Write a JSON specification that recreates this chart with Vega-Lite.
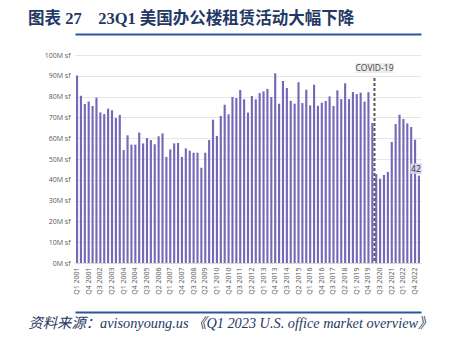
{
 "$schema": "https://vega.github.io/schema/vega-lite/v6.json",
 "width": 346,
 "height": 208,
 "autosize": {"type": "none"},
 "padding": {"left": 75, "top": 55, "right": 29, "bottom": 87},
 "background": "white",
 "title": {"text": "图表 27\u00a0\u00a0\u00a0\u00a023Q1 美国办公楼租赁活动大幅下降", "anchor": "start", "frame": "group", "dx": -47, "offset": 7, "font": "Liberation Serif, Noto Sans CJK SC", "fontSize": 16.5, "fontWeight": "bold", "color": "#1f3864"},
 "data": {"values": [
  {"q": "Q1 2001", "v": 90.1}, {"q": "Q2 2001", "v": 80.4}, {"q": "Q3 2001", "v": 76.4}, {"q": "Q4 2001", "v": 77.6},
  {"q": "Q1 2002", "v": 75.5}, {"q": "Q2 2002", "v": 79.5}, {"q": "Q3 2002", "v": 72.4}, {"q": "Q4 2002", "v": 71.6},
  {"q": "Q1 2003", "v": 74.2}, {"q": "Q2 2003", "v": 73.4}, {"q": "Q3 2003", "v": 69.7}, {"q": "Q4 2003", "v": 71.2},
  {"q": "Q1 2004", "v": 54.3}, {"q": "Q2 2004", "v": 61.4}, {"q": "Q3 2004", "v": 56.9}, {"q": "Q4 2004", "v": 56.9},
  {"q": "Q1 2005", "v": 62.7}, {"q": "Q2 2005", "v": 57.5}, {"q": "Q3 2005", "v": 60.1}, {"q": "Q4 2005", "v": 59.1},
  {"q": "Q1 2006", "v": 57.1}, {"q": "Q2 2006", "v": 60.9}, {"q": "Q3 2006", "v": 62.3}, {"q": "Q4 2006", "v": 51.0},
  {"q": "Q1 2007", "v": 54.6}, {"q": "Q2 2007", "v": 57.5}, {"q": "Q3 2007", "v": 57.7}, {"q": "Q4 2007", "v": 51.0},
  {"q": "Q1 2008", "v": 55.1}, {"q": "Q2 2008", "v": 54.0}, {"q": "Q3 2008", "v": 53.0}, {"q": "Q4 2008", "v": 53.0},
  {"q": "Q1 2009", "v": 45.8}, {"q": "Q2 2009", "v": 53.0}, {"q": "Q3 2009", "v": 59.1}, {"q": "Q4 2009", "v": 68.9},
  {"q": "Q1 2010", "v": 61.1}, {"q": "Q2 2010", "v": 70.7}, {"q": "Q3 2010", "v": 76.1}, {"q": "Q4 2010", "v": 71.5},
  {"q": "Q1 2011", "v": 79.8}, {"q": "Q2 2011", "v": 79.3}, {"q": "Q3 2011", "v": 83.2}, {"q": "Q4 2011", "v": 78.7},
  {"q": "Q1 2012", "v": 72.3}, {"q": "Q2 2012", "v": 80.3}, {"q": "Q3 2012", "v": 78.7}, {"q": "Q4 2012", "v": 81.7},
  {"q": "Q1 2013", "v": 82.5}, {"q": "Q2 2013", "v": 83.7}, {"q": "Q3 2013", "v": 79.8}, {"q": "Q4 2013", "v": 91.2},
  {"q": "Q1 2014", "v": 76.6}, {"q": "Q2 2014", "v": 87.5}, {"q": "Q3 2014", "v": 84.1}, {"q": "Q4 2014", "v": 78.0},
  {"q": "Q1 2015", "v": 76.6}, {"q": "Q2 2015", "v": 86.9}, {"q": "Q3 2015", "v": 76.9}, {"q": "Q4 2015", "v": 83.3},
  {"q": "Q1 2016", "v": 75.8}, {"q": "Q2 2016", "v": 85.7}, {"q": "Q3 2016", "v": 75.6}, {"q": "Q4 2016", "v": 77.1},
  {"q": "Q1 2017", "v": 77.9}, {"q": "Q2 2017", "v": 80.1}, {"q": "Q3 2017", "v": 75.5}, {"q": "Q4 2017", "v": 83.0},
  {"q": "Q1 2018", "v": 78.8}, {"q": "Q2 2018", "v": 86.4}, {"q": "Q3 2018", "v": 78.8}, {"q": "Q4 2018", "v": 82.2},
  {"q": "Q1 2019", "v": 81.2}, {"q": "Q2 2019", "v": 81.9}, {"q": "Q3 2019", "v": 77.6}, {"q": "Q4 2019", "v": 82.1},
  {"q": "Q1 2020", "v": 67.3}, {"q": "Q2 2020", "v": 42.8}, {"q": "Q3 2020", "v": 40.5}, {"q": "Q4 2020", "v": 42.3},
  {"q": "Q1 2021", "v": 43.8}, {"q": "Q2 2021", "v": 58.2}, {"q": "Q3 2021", "v": 66.8}, {"q": "Q4 2021", "v": 71.3},
  {"q": "Q1 2022", "v": 69.2}, {"q": "Q2 2022", "v": 67.1}, {"q": "Q3 2022", "v": 65.4}, {"q": "Q4 2022", "v": 59.3},
  {"q": "Q1 2023", "v": 42}
 ]},
 "layer": [
  {
   "mark": {"type": "bar", "color": "#7668b8"},
   "encoding": {
    "x": {"field": "q", "type": "ordinal", "sort": null,
     "scale": {"paddingInner": 0.45, "paddingOuter": 0.25},
     "axis": {
      "values": ["Q1 2001","Q4 2001","Q3 2002","Q2 2003","Q1 2004","Q4 2004","Q3 2005","Q2 2006","Q1 2007","Q4 2007","Q3 2008","Q2 2009","Q1 2010","Q4 2010","Q3 2011","Q2 2012","Q1 2013","Q4 2013","Q3 2014","Q2 2015","Q1 2016","Q4 2016","Q3 2017","Q2 2018","Q1 2019","Q4 2019","Q3 2020","Q2 2021","Q1 2022","Q4 2022"],
      "labelAngle": -90, "labelFont": "Open Sans", "labelFontSize": 7, "labelColor": "#595959", "labelPadding": 4,
      "ticks": false, "domainColor": "#d9d9d9", "grid": false,
      "title": "资料来源：avisonyoung.us 《Q1 2023 U.S. office market overview》",
      "titleX": -47, "titleY": 60, "titleAlign": "left", "titleAnchor": "start", "titleBaseline": "middle",
      "titleFont": "Liberation Serif, Noto Sans CJK SC", "titleFontStyle": "italic", "titleFontWeight": "normal", "titleFontSize": 14.3, "titleColor": "#1f3864"
     }
    },
    "y": {"field": "v", "type": "quantitative", "scale": {"domain": [0, 100], "nice": false},
     "axis": {"values": [0,10,20,30,40,50,60,70,80,90,100], "tickCount": 12, "labelOverlap": false, "labelExpr": "datum.value + 'M sf'", "domain": false, "ticks": false,
      "gridColor": "#e6e6e6", "labelColor": "#595959", "labelFont": "Open Sans", "labelFontSize": 7, "labelPadding": 5, "title": null}
    }
   }
  },
  {
   "transform": [{"filter": "datum.q == 'Q1 2020'"}],
   "mark": {"type": "rule", "color": "#595959", "strokeWidth": 2, "strokeDash": [3, 2]},
   "encoding": {
    "x": {"field": "q", "type": "ordinal", "sort": null, "bandPosition": 1.5,
     "axis": {"orient": "top", "offset": 21, "labels": false, "ticks": false, "grid": false, "domainColor": "#2b579a", "domainWidth": 2, "title": null}},
    "y": {"datum": 89, "type": "quantitative", "axis": null},
    "y2": {"datum": 0}
   }
  },
  {
   "transform": [{"filter": "datum.q == 'Q1 2020'"}],
   "mark": {"type": "point", "shape": "M-1.9,-0.5L1.9,-0.5L1.9,0.5L-1.9,0.5Z", "size": 400, "filled": true, "color": "#ebebeb", "opacity": 1},
   "encoding": {
    "x": {"field": "q", "type": "ordinal", "sort": null, "bandPosition": 1.5, "axis": null},
    "y": {"datum": 93.8, "type": "quantitative", "axis": null}
   }
  },
  {
   "transform": [{"filter": "datum.q == 'Q1 2020'"}],
   "mark": {"type": "text", "text": "COVID-19", "font": "Open Sans", "fontSize": 8.5, "color": "#404040", "baseline": "middle"},
   "encoding": {
    "x": {"field": "q", "type": "ordinal", "sort": null, "bandPosition": 1.5, "axis": null},
    "y": {"datum": 93.8, "type": "quantitative", "axis": null}
   }
  },
  {
   "transform": [{"filter": "datum.q == 'Q1 2023'"}],
   "mark": {"type": "point", "shape": "M-1.1,-1L1.1,-1L1.1,1L-1.1,1Z", "size": 106, "filled": true, "color": "#d6d1ef", "opacity": 1, "xOffset": -3, "yOffset": -7},
   "encoding": {
    "x": {"field": "q", "type": "ordinal", "sort": null, "axis": {"orient": "bottom", "offset": 49, "labels": false, "ticks": false, "grid": false, "domainColor": "#2b579a", "domainWidth": 2, "title": null}},
    "y": {"field": "v", "type": "quantitative", "axis": null}
   }
  },
  {
   "transform": [{"filter": "datum.q == 'Q1 2023'"}],
   "mark": {"type": "text", "font": "Open Sans", "fontSize": 8.5, "color": "#333333", "baseline": "middle", "dx": -3, "dy": -7},
   "encoding": {
    "x": {"field": "q", "type": "ordinal", "sort": null, "axis": null},
    "y": {"field": "v", "type": "quantitative", "axis": null},
    "text": {"field": "v", "type": "quantitative", "format": "d"}
   }
  }
 ],
 "resolve": {"scale": {"y": "shared"}, "axis": {"x": "independent", "y": "independent"}},
 "config": {"view": {"stroke": null}, "axis": {"labelOverlap": false}}
}
